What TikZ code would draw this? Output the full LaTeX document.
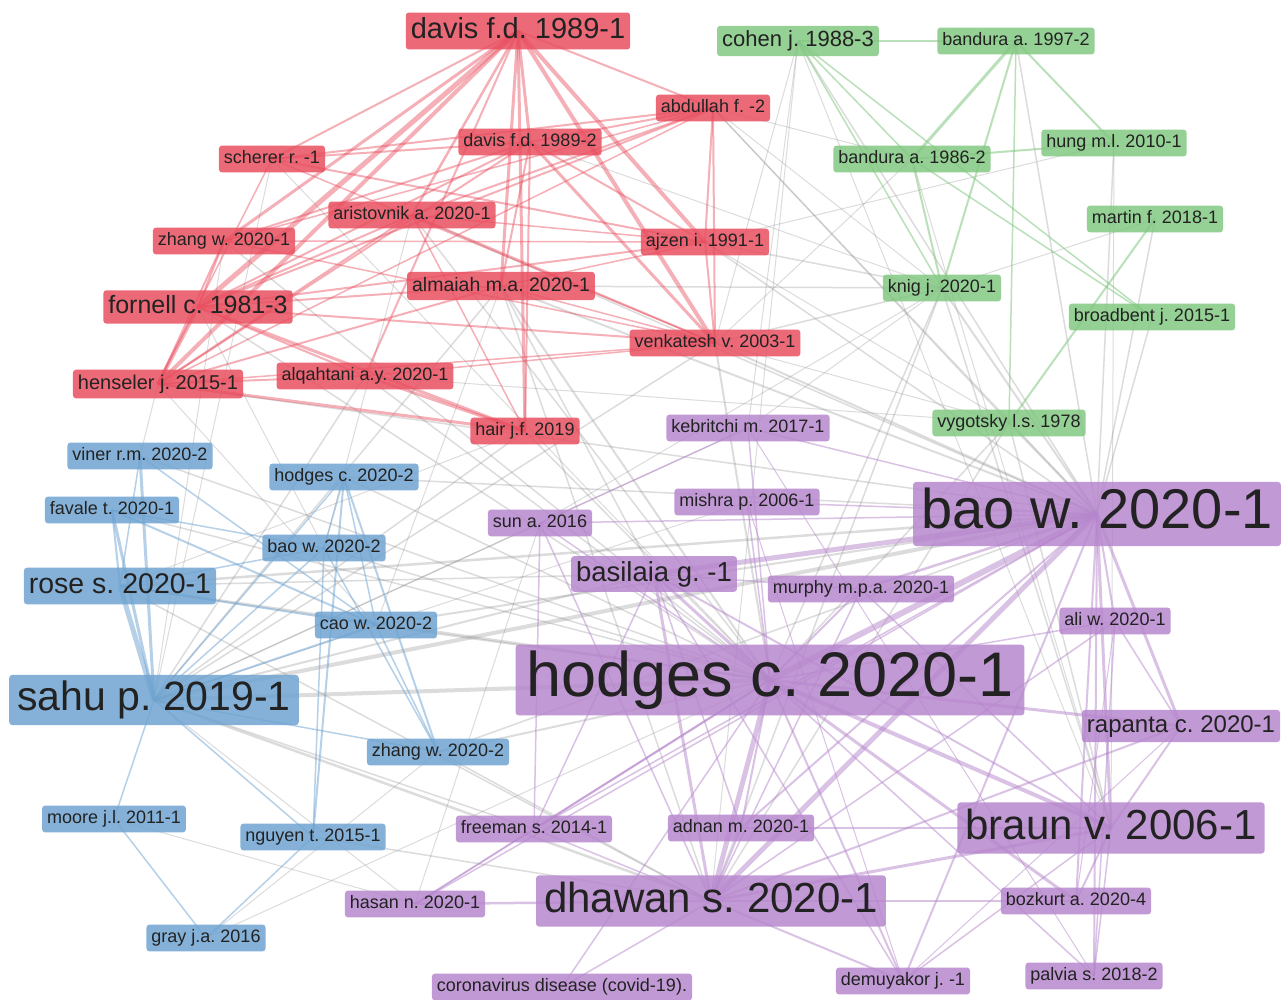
\documentclass[tikz,border=0pt]{standalone}
\usepackage{fontspec}
\setmainfont{Liberation Sans}
\definecolor{redc}{HTML}{E94E5F}
\definecolor{greenc}{HTML}{81C781}
\definecolor{bluec}{HTML}{6EA3D1}
\definecolor{purpc}{HTML}{B686CD}
\definecolor{greyc}{HTML}{959595}
\definecolor{txt}{HTML}{222222}
\pgfdeclarelayer{bg}
\pgfsetlayers{bg,main}
\tikzset{
  lab/.style={rounded corners=3pt, inner xsep=5pt, inner ysep=5pt, text=txt,
    fill opacity=0.84, text opacity=1},
  big/.style={inner xsep=8pt, inner ysep=6pt},
  fs/.style={font=\fontsize{#1}{#1}\selectfont\frenchspacing, text height=#1*0.73pt, text depth=#1*0.2pt},
  fs/.default=18,
  rl/.style={lab, fill=redc},
  gl/.style={lab, fill=greenc},
  bl/.style={lab, fill=bluec},
  pl/.style={lab, fill=purpc},
  redge/.style={draw=redc, draw opacity=0.45, line width=#1},
  gedge/.style={draw=greenc, draw opacity=0.55, line width=#1},
  bedge/.style={draw=bluec, draw opacity=0.5, line width=#1},
  pedge/.style={draw=purpc, draw opacity=0.5, line width=#1},
  xedge/.style={draw=greyc, draw opacity=0.33, line width=#1},
}
\begin{document}
\begin{tikzpicture}[x=1pt,y=-1pt]
\useasboundingbox (0,0) rectangle (1286,1000);
% red
\node[rl,fs=29] (davis1) at (518,31) {davis f.d. 1989-1};
\node[rl,fs] (abdullah) at (713,108) {abdullah f. -2};
\node[rl,fs] (davis2) at (530,142) {davis f.d. 1989-2};
\node[rl,fs] (scherer) at (272,159) {scherer r. -1};
\node[rl,fs] (aristovnik) at (412,215) {aristovnik a. 2020-1};
\node[rl,fs] (zhang1) at (224,241) {zhang w. 2020-1};
\node[rl,fs] (ajzen) at (705,242) {ajzen i. 1991-1};
\node[rl,fs=19.5] (almaiah) at (501,286) {almaiah m.a. 2020-1};
\node[rl,fs=25] (fornell) at (198,307) {fornell c. 1981-3};
\node[rl,fs] (venkatesh) at (715,343) {venkatesh v. 2003-1};
\node[rl,fs] (alqahtani) at (365,376) {alqahtani a.y. 2020-1};
\node[rl,fs=20] (henseler) at (158,384) {henseler j. 2015-1};
\node[rl,fs] (hair) at (525,431) {hair j.f. 2019};
% green
\node[gl,fs=22] (cohen) at (798,41) {cohen j. 1988-3};
\node[gl,fs] (bandura97) at (1016,41) {bandura a. 1997-2};
\node[gl,fs] (bandura86) at (912,159) {bandura a. 1986-2};
\node[gl,fs] (hung) at (1114,143) {hung m.l. 2010-1};
\node[gl,fs] (martin) at (1155,219) {martin f. 2018-1};
\node[gl,fs] (knig) at (942,288) {knig j. 2020-1};
\node[gl,fs] (broadbent) at (1152,317) {broadbent j. 2015-1};
\node[gl,fs] (vygotsky) at (1009,423) {vygotsky l.s. 1978};
% blue
\node[bl,fs] (viner) at (140,456) {viner r.m. 2020-2};
\node[bl,fs] (hodges2) at (344,477) {hodges c. 2020-2};
\node[bl,fs] (favale) at (112,510) {favale t. 2020-1};
\node[bl,fs] (bao2) at (324,548) {bao w. 2020-2};
\node[bl,fs=28.5] (rose) at (120,586) {rose s. 2020-1};
\node[bl,fs] (cao) at (376,625) {cao w. 2020-2};
\node[bl,big,fs=41] (sahu) at (154,700) {sahu p. 2019-1};
\node[bl,fs] (zhang2) at (438,752) {zhang w. 2020-2};
\node[bl,fs] (moore) at (114,819) {moore j.l. 2011-1};
\node[bl,fs] (nguyen) at (313,837) {nguyen t. 2015-1};
\node[bl,fs] (gray) at (206,938) {gray j.a. 2016};
% purple
\node[pl,fs] (kebritchi) at (748,428) {kebritchi m. 2017-1};
\node[pl,big,fs=56] (bao1) at (1097,514) {bao w. 2020-1};
\node[pl,fs] (mishra) at (747,502) {mishra p. 2006-1};
\node[pl,fs] (sun) at (540,523) {sun a. 2016};
\node[pl,fs=27.5] (basilaia) at (654,574) {basilaia g. -1};
\node[pl,fs] (murphy) at (861,589) {murphy m.p.a. 2020-1};
\node[pl,fs] (ali) at (1115,621) {ali w. 2020-1};
\node[pl,big,fs=63,inner xsep=11pt] (hodges1) at (770,680) {hodges c. 2020-1};
\node[pl,fs=24] (rapanta) at (1181,726) {rapanta c. 2020-1};
\node[pl,big,fs=42] (braun) at (1111,828) {braun v. 2006-1};
\node[pl,fs] (freeman) at (534,829) {freeman s. 2014-1};
\node[pl,fs] (adnan) at (741,828) {adnan m. 2020-1};
\node[pl,big,fs=42] (dhawan) at (711,901) {dhawan s. 2020-1};
\node[pl,fs] (hasan) at (415,904) {hasan n. 2020-1};
\node[pl,fs] (bozkurt) at (1076,901) {bozkurt a. 2020-4};
\node[pl,fs] (corona) at (562,987) {coronavirus disease (covid-19).};
\node[pl,fs] (demuyakor) at (903,981) {demuyakor j. -1};
\node[pl,fs] (palvia) at (1094,976) {palvia s. 2018-2};

\begin{pgfonlayer}{bg}
\fill[white] (0,0) rectangle (1286,1000);
% grey cross-cluster edges
\foreach \a/\b/\w in {bao1/knig/2, bao1/vygotsky/2, bao1/broadbent/1.5, bao1/martin/1.5, bao1/hung/1.5,
  bao1/bandura97/1.5, bao1/cohen/1.5, bao1/abdullah/1.5, bao1/ajzen/1.5, bao1/venkatesh/2, bao1/almaiah/2,
  bao1/aristovnik/1.5, bao1/sahu/4, bao1/rose/2.5, bao1/hodges2/1.5, bao1/cao/2, bao1/zhang2/1.5, bao1/henseler/1.5,
  hodges1/sahu/4, hodges1/rose/2.5, hodges1/cao/2, hodges1/bao2/1.5, hodges1/hodges2/1.5, hodges1/almaiah/2,
  hodges1/aristovnik/1.5, hodges1/venkatesh/2, hodges1/knig/1.5, hodges1/vygotsky/1.5, hodges1/zhang1/1.5,
  hodges1/viner/1.5, hodges1/favale/1.5, hodges1/zhang2/2, hodges1/fornell/1.5, hodges1/alqahtani/1.5, hodges1/hair/1.5,
  dhawan/sahu/2.5, dhawan/rose/1.5, dhawan/zhang2/1.5, dhawan/nguyen/1.5, dhawan/almaiah/1.5, dhawan/knig/1.5,
  dhawan/cohen/1, dhawan/vygotsky/1.5, braun/knig/1.5, braun/cohen/1, braun/bandura86/1, braun/vygotsky/1.5, braun/hung/1,
  basilaia/sahu/2, basilaia/rose/1.5, basilaia/almaiah/1.5, knig/venkatesh/1.5, knig/ajzen/1.5, knig/almaiah/1.5,
  knig/abdullah/1, knig/sun/1, knig/kebritchi/1, hung/ajzen/1, vygotsky/venkatesh/1, vygotsky/alqahtani/1,
  cohen/kebritchi/1, abdullah/vygotsky/1, scherer/sahu/1, zhang1/sahu/1, fornell/bao2/1, henseler/cao/1,
  hair/sahu/1.5, hair/rose/1, alqahtani/sahu/1.5, almaiah/sahu/1.5, almaiah/cao/1, aristovnik/bao2/1,
  venkatesh/sahu/1.5, mishra/sahu/1, kebritchi/sahu/1, sun/sahu/1.5, sun/hasan/1, freeman/sahu/1.5, hasan/sahu/1,
  hasan/moore/1, gray/zhang2/1, gray/hodges1/1, henseler/viner/1, scherer/hodges1/1, abdullah/bandura86/1,
  ajzen/vygotsky/1, davis2/knig/1, cohen/venkatesh/1, bandura86/venkatesh/1, martin/knig/1}
  \draw[xedge=\w pt] (\a.center) -- (\b.center);
% red edges
\foreach \a/\b/\w in {davis1/fornell/5, davis1/henseler/4, davis1/zhang1/3, davis1/scherer/2, davis1/aristovnik/2.5,
  davis1/davis2/3, davis1/almaiah/3, davis1/hair/3, davis1/ajzen/4, davis1/venkatesh/4, davis1/abdullah/2, davis1/alqahtani/2,
  davis2/fornell/2, davis2/henseler/2, davis2/scherer/2, davis2/abdullah/2, davis2/ajzen/2, davis2/venkatesh/3,
  davis2/almaiah/2, davis2/zhang1/2, davis2/hair/2, abdullah/scherer/2, abdullah/aristovnik/2, abdullah/fornell/2,
  abdullah/ajzen/2, abdullah/venkatesh/2, abdullah/henseler/1.5, abdullah/zhang1/1.5, scherer/henseler/1.5,
  scherer/venkatesh/1.5, scherer/ajzen/2, aristovnik/fornell/2, aristovnik/henseler/2, aristovnik/ajzen/1.5,
  aristovnik/venkatesh/2, aristovnik/hair/1.5, zhang1/henseler/2, zhang1/fornell/2, zhang1/venkatesh/1.5,
  zhang1/ajzen/1.5, fornell/henseler/4, fornell/almaiah/2, fornell/ajzen/2, fornell/venkatesh/2, fornell/alqahtani/2,
  fornell/hair/3, almaiah/henseler/2, almaiah/venkatesh/1.5, almaiah/ajzen/1.5, henseler/hair/3, henseler/alqahtani/2,
  henseler/venkatesh/1.5, alqahtani/hair/3, alqahtani/venkatesh/1.5, ajzen/venkatesh/2}
  \draw[redge=\w pt] (\a.center) -- (\b.center);
% green edges
\foreach \a/\b/\w in {cohen/bandura97/2, cohen/bandura86/1.5, cohen/knig/1.5, cohen/broadbent/1.5,
  bandura97/bandura86/3, bandura97/hung/2, bandura97/knig/2, bandura97/vygotsky/1.5, bandura86/hung/2,
  bandura86/knig/2, bandura86/broadbent/1.5, martin/vygotsky/2}
  \draw[gedge=\w pt] (\a.center) -- (\b.center);
% blue edges
\foreach \a/\b/\w in {sahu/rose/5, sahu/viner/3, sahu/favale/3, sahu/hodges2/1.5, sahu/bao2/1.5, sahu/cao/2,
  sahu/zhang2/1.5, sahu/moore/1.5, sahu/nguyen/1.5, rose/viner/1.5, rose/favale/2, rose/cao/2, rose/bao2/1.5,
  favale/cao/2, favale/bao2/1.5, viner/cao/1.5, hodges2/nguyen/2, hodges2/zhang2/2, hodges2/cao/1.5,
  hodges2/bao2/1.5, bao2/nguyen/1.5, bao2/zhang2/1.5, cao/zhang2/1.5, moore/gray/1.5, nguyen/gray/1.5}
  \draw[bedge=\w pt] (\a.center) -- (\b.center);
% purple edges
\foreach \a/\b/\w in {bao1/hodges1/6, bao1/basilaia/5, bao1/dhawan/5, bao1/braun/3, bao1/rapanta/3, bao1/ali/2,
  bao1/bozkurt/2, bao1/palvia/2, bao1/demuyakor/2, bao1/adnan/2, bao1/murphy/2.5, bao1/mishra/1.5, bao1/kebritchi/1.5,
  bao1/sun/1.5, bao1/freeman/1.5, bao1/hasan/1.5, hodges1/dhawan/5, hodges1/braun/4, hodges1/rapanta/3,
  hodges1/basilaia/3, hodges1/adnan/2, hodges1/bozkurt/3, hodges1/demuyakor/2, hodges1/palvia/1.5, hodges1/ali/1.5,
  hodges1/murphy/2, hodges1/mishra/1.5, hodges1/kebritchi/1.5, hodges1/sun/1.5, hodges1/freeman/2, hodges1/hasan/2,
  hodges1/corona/1.5, dhawan/braun/3, dhawan/basilaia/3, dhawan/adnan/2, dhawan/bozkurt/2, dhawan/hasan/2.5,
  dhawan/demuyakor/2, dhawan/rapanta/2, dhawan/freeman/1.5, dhawan/corona/1.5, dhawan/ali/1.5, dhawan/sun/1.5,
  dhawan/murphy/1.5, braun/rapanta/2, braun/bozkurt/2, braun/palvia/1.5, braun/basilaia/2, braun/demuyakor/1.5,
  braun/murphy/1.5, braun/adnan/1.5, basilaia/murphy/1.5, basilaia/adnan/1.5, basilaia/demuyakor/1.5,
  basilaia/freeman/1.5, kebritchi/sun/1.5, kebritchi/palvia/1, rapanta/ali/1.5, palvia/ali/1.5, bozkurt/ali/1,
  sun/freeman/1.5, hasan/freeman/1, demuyakor/rapanta/1, mishra/demuyakor/1}
  \draw[pedge=\w pt] (\a.center) -- (\b.center);
\end{pgfonlayer}
\end{tikzpicture}
\end{document}
